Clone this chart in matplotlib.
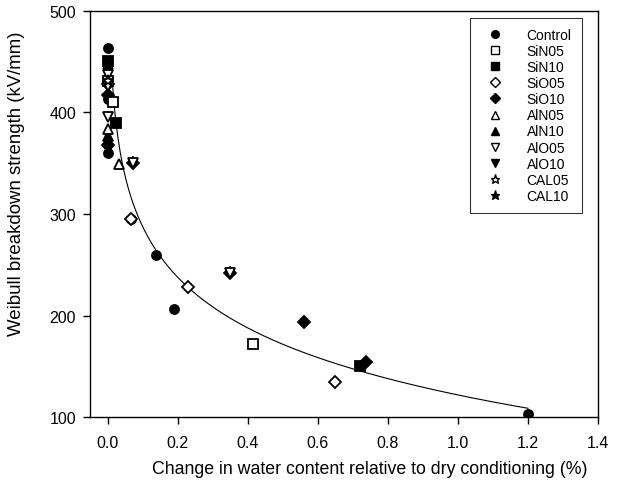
import numpy as np
import matplotlib
matplotlib.use("Agg")
import matplotlib.pyplot as plt

plt.rcParams['font.family'] = ['Liberation Sans', 'DejaVu Sans']

# ---- data ----
control_x = [0.0, 0.0, 0.0, 0.068, 0.139, 0.189, 1.20]
control_y = [463, 413, 360, 295, 259.6, 207, 103]
sin05_x = [0.0, 0.015, 0.415]
sin05_y = [431, 409.8, 172.6]
sin10_x = [0.0, 0.025, 0.72]
sin10_y = [451, 390, 150.2]
sio05_x = [0.0, 0.068, 0.229, 0.65]
sio05_y = [428, 295, 227.8, 134.9]
sio10_x = [0.0, 0.0, 0.072, 0.349, 0.56, 0.739]
sio10_y = [417, 368, 350, 242, 193.7, 154.2]
aln05_x = [0.0, 0.034]
aln05_y = [383.5, 349]
aln10_x = [0.0]
aln10_y = [377]
alo05_x = [0.0, 0.0, 0.0, 0.072, 0.349]
alo05_y = [436.7, 425.5, 395, 350, 242]
alo10_x = [0.0]
alo10_y = [446]
cal05_x = [0.0]
cal05_y = [431]
cal10_x = [0.0, 0.0]
cal10_y = [441.6, 365]

# fitted regression curve y = a + b*ln(x)
fit_a = 122.0
fit_b = -72.0
fit_xmin, fit_xmax = 0.015, 1.2

series = [
    ("Control", control_x, control_y, 'o', 'black'),
    ("SiN05", sin05_x, sin05_y, 's', 'white'),
    ("SiN10", sin10_x, sin10_y, 's', 'black'),
    ("SiO05", sio05_x, sio05_y, 'D', 'white'),
    ("SiO10", sio10_x, sio10_y, 'D', 'black'),
    ("AlN05", aln05_x, aln05_y, '^', 'white'),
    ("AlN10", aln10_x, aln10_y, '^', 'black'),
    ("AlO05", alo05_x, alo05_y, 'v', 'white'),
    ("AlO10", alo10_x, alo10_y, 'v', 'black'),
    ("CAL05", cal05_x, cal05_y, '*', 'white'),
    ("CAL10", cal10_x, cal10_y, '*', 'black'),
]

fig = plt.figure(figsize=(6.19, 4.89), dpi=100)
ax = fig.add_axes([0.1454, 0.1446, 0.8206, 0.8314])

xf = np.linspace(fit_xmin, fit_xmax, 400)
ax.plot(xf, fit_a + fit_b * np.log(xf), color='black', lw=0.8, zorder=2)

order = [0, 2, 4, 6, 8, 10, 1, 3, 5, 7, 9]
for i in order:
    name, x, y, m, fc = series[i]
    ms = 6.5
    if m == '*':
        ms = 8
    if m == 'D':
        ms = 5.8
    ax.plot(x, y, linestyle='none', marker=m, markersize=ms,
            markerfacecolor=fc, markeredgecolor='black',
            markeredgewidth=1.3, zorder=3 + (1 if fc == 'white' else 0))

leg_handles = []
for name, x, y, m, fc in series:
    ms = 5.5 if m != '*' else 6.5
    if m == 'D':
        ms = 4.8
    lh, = ax.plot([], [], linestyle='none', marker=m, markersize=ms,
                  markerfacecolor=fc, markeredgecolor='black', markeredgewidth=1.0)
    leg_handles.append(lh)

labels = [s[0] for s in series]
leg = ax.legend(leg_handles, labels, loc='upper right', bbox_to_anchor=(0.974, 0.99),
                fontsize=10, frameon=True, fancybox=False, edgecolor='black',
                labelspacing=0.15, handletextpad=1.3, borderpad=0.75,
                handlelength=2.0, borderaxespad=0.2)
leg.get_frame().set_linewidth(0.8)

ax.set_xlim(-0.05, 1.4)
ax.set_ylim(100, 500)
ax.set_xticks([0.0, 0.2, 0.4, 0.6, 0.8, 1.0, 1.2, 1.4])
ax.set_xticklabels(['0.0', '0.2', '0.4', '0.6', '0.8', '1.0', '1.2', '1.4'])
ax.set_yticks([100, 200, 300, 400, 500])
ax.tick_params(direction='out', length=5, width=1, labelsize=11.5, colors='black')
ax.tick_params(axis='x', pad=8)
ax.tick_params(axis='y', pad=5)
for sp in ax.spines.values():
    sp.set_linewidth(1.0)

ax.set_xlabel('Change in water content relative to dry conditioning (%)', fontsize=12.8)
ax.set_ylabel('Weibull breakdown strength (kV/mm)', fontsize=13.4)
ax.xaxis.set_label_coords(0.55, -0.106)
ax.yaxis.set_label_coords(-0.127, 0.578)

fig.savefig('out.png', dpi=100)
